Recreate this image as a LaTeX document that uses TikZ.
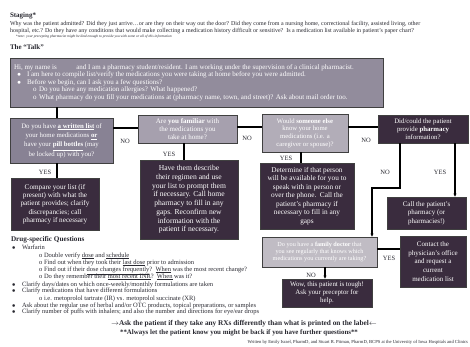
\documentclass[tikz,border=0pt]{standalone}
\usepackage{fontspec}
\setmainfont{Liberation Serif}
\usetikzlibrary{arrows.meta}
\newcommand{\fsz}[2]{\fontsize{#1}{#2}\selectfont}
\newcommand{\uln}[1]{\underline{#1}}
\definecolor{darkbox}{RGB}{58,44,62}
\definecolor{midbox}{RGB}{136,130,148}
\definecolor{bannerc}{RGB}{146,140,156}
\definecolor{litbox}{RGB}{166,160,174}
\definecolor{littwo}{RGB}{178,173,184}
\definecolor{litthree}{RGB}{192,188,196}
\definecolor{inkc}{RGB}{40,40,48}
\begin{document}
\begin{tikzpicture}[x=1pt,y=-1pt,
  every node/.style={inner sep=0pt,outer sep=0pt},
  fbox/.style={draw=black!75,line width=0.7pt,text=white,align=center},
  darkb/.style={fbox,fill=darkbox},
  conn/.style={line width=1.3pt,black},
  conna/.style={conn,-{Latex[length=3.5pt,width=3.5pt]}},
  lab/.style={font={\fsz{6.5}{7}},text=inkc},
  txt/.style={anchor=base west,text=inkc,font={\fsz{6.5}{7}}},
  bantxt/.style={anchor=base west,text=white,font={\fsz{7}{7.5}}}
]
\useasboundingbox[fill=white] (0,0) rectangle (470,346);

% ---------- Staging ----------
\node[txt,font={\fsz{7}{8}\bfseries}] (stg) at (10,17) {Staging*};
\node[txt,font={\fsz{6}{7}}] (stg1) at (10,25) {Why was the patient admitted? Did they just arrive\ldots or are they on their way out the door? Did they come from a nursing home, correctional facility, assisted living, other};
\node[txt,font={\fsz{6}{7}}] (stg2) at (10,32) {hospital, etc.? Do they have any conditions that would make collecting a medication history difficult or sensitive?\ \ Is a medication list available in patient's paper chart?};
\node[txt,font={\fsz{3.6}{4}\itshape}] (stg3) at (16,37.5) {*note: your precepting pharmacist might be kind enough to provide you with some or all of this information};
\node[txt,font={\fsz{7}{8}\bfseries}] (talk) at (10,49) {The ``Talk''};

% ---------- Banner ----------
\node[fbox,fill=bannerc,minimum width=373pt,minimum height=49pt] (banner) at (196.5,82.5) {};
\node[bantxt] (bn1) at (14,69) {Hi, my name is \hspace{16pt} and I am a pharmacy student/resident. I am working under the supervision of a clinical pharmacist.};
\node[bantxt] (bn2b) at (17,76.5) {$\bullet$};
\node[bantxt] (bn2) at (27,76.5) {I am here to compile list/verify the medications you were taking at home before you were admitted.};
\node[bantxt] (bn3b) at (17,84) {$\bullet$};
\node[bantxt] (bn3) at (27,84) {Before we begin, can I ask you a few questions?};
\node[bantxt] (bn4b) at (33,91.5) {o};
\node[bantxt] (bn4) at (39,91.5) {Do you have any medication allergies? What happened?};
\node[bantxt] (bn5b) at (33,99) {o};
\node[bantxt] (bn5) at (39,99) {What pharmacy do you fill your medications at (pharmacy name, town, and street)? Ask about mail order too.};

% ---------- Flow boxes ----------
\node[fbox,fill=midbox,minimum width=103pt,minimum height=45pt,font={\fsz{6.8}{9.4}}] (b1) at (61.5,140.5)
 {Do you have \textbf{\uln{a written list}} of\\ your home medications \textbf{\uln{or}}\\ have your \textbf{\uln{pill bottles}} (may\\ be locked up) with you?};
\node[fbox,fill=litbox,minimum width=99pt,minimum height=28pt,font={\fsz{7}{7.6}}] (b2) at (187.5,129)
 {Are \textbf{you familiar} with\\ the medications you\\ take at home?};
\node[darkb,minimum width=88pt,minimum height=52pt,font={\fsz{7.2}{8.3}}] (b3) at (55,204)
 {Compare your list (if\\ present) with what the\\ patient provides; clarify\\ discrepancies; call\\ pharmacy if necessary};
\node[darkb,minimum width=98pt,minimum height=79pt,font={\fsz{7.6}{8.7}}] (b4) at (189,199.5)
 {Have them describe\\ their regimen and use\\ your list to prompt them\\ if necessary. Call home\\ pharmacy to fill in any\\ gaps. Reconfirm new\\ information with the\\ patient if necessary.};
\node[fbox,fill=littwo,minimum width=86pt,minimum height=38pt,font={\fsz{6.7}{7.7}}] (b5) at (305,133)
 {Would \textbf{someone else}\\ know your home\\ medications (i.e. a\\ caregiver or spouse)?};
\node[darkb,minimum width=94pt,minimum height=66pt,font={\fsz{7.3}{8.5}}] (b6) at (307,196)
 {Determine if that person\\ will be available for you to\\ speak with in person or\\ over the phone.\ \ Call the\\ patient's pharmacy if\\ necessary to fill in any\\ gaps};
\node[darkb,minimum width=90pt,minimum height=28pt,font={\fsz{6.8}{7.8}}] (b7) at (423,129)
 {Did/could the patient\\ provide \textbf{pharmacy}\\ information?};
\node[darkb,minimum width=79pt,minimum height=32pt,font={\fsz{7}{8.4}}] (b9) at (426.5,213)
 {Call the patient's\\ pharmacy (or\\ pharmacies!)};
\node[fbox,fill=litthree,minimum width=115pt,minimum height=30pt,font={\fsz{6.2}{7.4}}] (b8) at (319.5,252)
 {Do you have a \textbf{family doctor} that\\ you see regularly that knows which\\ medications you currently are taking?};
\node[darkb,minimum width=66pt,minimum height=51pt,font={\fsz{7}{8.6}}] (b10) at (433,261.5)
 {Contact the\\ physician's office\\ and request a\\ current\\ medication list};
\node[darkb,minimum width=90pt,minimum height=28pt,font={\fsz{6.9}{8}}] (b11) at (327,293)
 {Wow, this patient is tough!\\ Ask your preceptor for\\ help.};

% ---------- Connector guide coordinates ----------
\coordinate (xa) at (57,0);
\coordinate (xb) at (184,0);
\coordinate (xc) at (301,0);
\coordinate (xd) at (400,0);
\coordinate (xe) at (455,0);
\coordinate (xf) at (325,0);
\coordinate (ya) at (0,128);
\coordinate (yb) at (0,127);
\coordinate (yc) at (0,249);
\coordinate (elbow1) at (400,188);
\coordinate (elbow2) at (372,188);

% ---------- Connectors ----------
\draw[conn] (banner.south -| xa) -- (b1.north -| xa);
\draw[conn] (b1.south -| xa) -- (b3.north -| xa);
\draw[conn] (b1.east |- ya) -- (b2.west |- ya);
\draw[conn] (b2.south -| xb) -- (b4.north -| xb);
\draw[conn] (b2.east |- yb) -- (b5.west |- yb);
\draw[conn] (b5.south -| xc) -- (b6.north -| xc);
\draw[conn] (b5.east |- yb) -- (b7.west |- yb);
\draw[conna] (b7.south -| xd) -- (elbow1) -- (elbow2) -- (b8.north -| elbow2);
\draw[conna] (b7.south -| xe) -- (b9.north -| xe);
\draw[conn] (b8.east |- yc) -- (b10.west |- yc);
\draw[conna] (b8.south -| xf) -- (b11.north -| xf);

% ---------- Labels ----------
\node[lab] (l1) at (45,172) {YES};
\node[lab] (l2) at (125,141) {NO};
\node[lab] (l3) at (169,154) {YES};
\node[lab] (l4) at (247,138) {NO};
\node[lab] (l5) at (286,158) {YES};
\node[lab] (l6) at (366,140) {NO};
\node[lab] (l7) at (385,172) {NO};
\node[lab] (l8) at (440,172) {YES};
\node[lab] (l9) at (389,258) {YES};
\node[lab] (l10) at (311,275) {NO};

% ---------- Drug-specific ----------
\node[txt,font={\fsz{7.2}{8}\bfseries}] (dsq) at (11,241) {Drug-specific Questions};
\node[txt] (d1b) at (12,249) {$\bullet$};
\node[txt] (d1) at (22,249) {Warfarin};
\node[txt] (d1ab) at (39,257) {o};
\node[txt] (d1a) at (44,257) {Double verify \uln{dose} and \uln{schedule}};
\node[txt] (d1bb) at (39,264) {o};
\node[txt] (d1bt) at (44,264) {Find out when they took their \uln{last dose} prior to admission};
\node[txt] (d1cb) at (39,271) {o};
\node[txt] (d1c) at (44,271) {Find out if their \uln{dose changes frequently}?\ \ \uln{When} was the most recent change?};
\node[txt] (d1db) at (39,278) {o};
\node[txt] (d1d) at (44,278) {Do they remember their \uln{most recent INR}?\ \ \uln{When} was it?};
\node[txt] (d2b) at (12,286) {$\bullet$};
\node[txt] (d2) at (22,286) {Clarify days/dates on which once-weekly/monthly formulations are taken};
\node[txt] (d3b) at (12,292.7) {$\bullet$};
\node[txt] (d3) at (22,292.7) {Clarify medications that have different formulations};
\node[txt] (d3ab) at (39,300) {o};
\node[txt] (d3a) at (44,300) {i.e. metoprolol tartrate (IR) vs. metoprolol succinate (XR)};
\node[txt] (d4b) at (12,307) {$\bullet$};
\node[txt] (d4) at (22,307) {Ask about the regular use of herbal and/or OTC products, topical preparations, or samples};
\node[txt] (d5b) at (12,313.7) {$\bullet$};
\node[txt] (d5) at (22,313.7) {Clarify number of puffs with inhalers; and also the number and directions for eye/ear drops};

\node[anchor=base,text=inkc,font={\fsz{7.3}{8}\bfseries}] (ask) at (244,325.5)
 {$\rightarrow$Ask the patient if they take any RXs differently than what is printed on the label$\leftarrow$};
\node[anchor=base,text=inkc,font={\fsz{6.9}{8}\bfseries}] (always) at (239,334)
 {**Always let the patient know you might be back if you have further questions**};
\node[anchor=base east,text=inkc,font={\fsz{4.6}{5}}] (credit) at (468,343)
 {Written by Emily Israel, PharmD, and Stuart R. Pitman, PharmD, BCPS at the University of Iowa Hospitals and Clinics};
\end{tikzpicture}
\end{document}
